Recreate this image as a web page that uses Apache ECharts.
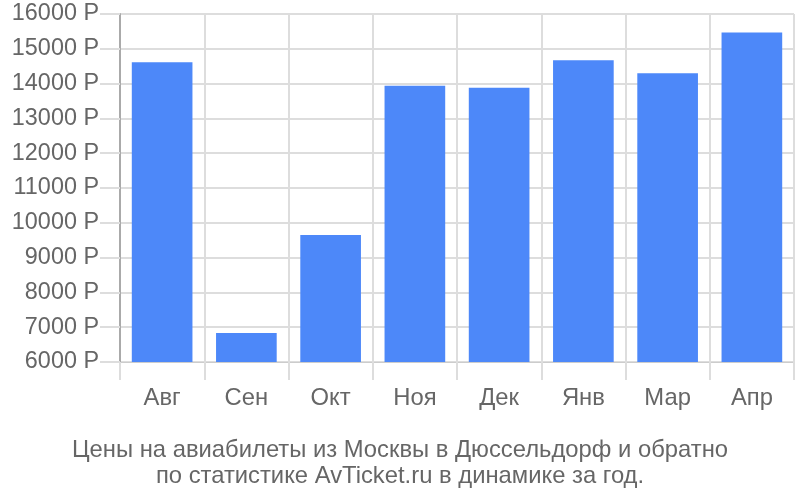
<!DOCTYPE html>
<html><head><meta charset="utf-8">
<script src="https://cdn.jsdelivr.net/npm/echarts@6/dist/echarts.min.js"></script>
<style>html,body{margin:0;padding:0;background:#fff}#c{width:800px;height:500px}</style>
</head><body><div id="c"></div>
<script>
const categories = ['Авг','Сен','Окт','Ноя','Дек','Янв','Мар','Апр'];
const prices = [14610, 6830, 9650, 13940, 13880, 14670, 14300, 15470];
const titleLines = ['Цены на авиабилеты из Москвы в Дюссельдорф и обратно','по статистике AvTicket.ru в динамике за год.'];

const chart = echarts.init(document.getElementById('c'));
const font = '"Liberation Sans", Arial, sans-serif';
chart.setOption({
  animation: false,
  title: {
    text: titleLines.join('\n'),
    left: 'center', top: 432,
    textStyle: {fontFamily: font, fontSize: 23.8, fontWeight: 'normal', color: '#666', lineHeight: 26}
  },
  grid: {left: 120, right: 6, top: 14, bottom: 138, containLabel: false},
  xAxis: {
    type: 'category', data: categories,
    axisLine: {show: true, lineStyle: {color: '#ccc', width: 1}},
    axisTick: {show: true, length: 18, lineStyle: {color: '#ddd', width: 2}},
    splitLine: {show: true, lineStyle: {color: '#ddd', width: 2}},
    axisLabel: {fontFamily: font, fontSize: 23.8, color: '#666', margin: 24}
  },
  yAxis: {
    type: 'value', min: 6000, max: 16000, interval: 1000,
    axisLine: {show: true, lineStyle: {color: '#aaa', width: 2}},
    axisTick: {show: true, length: 20, lineStyle: {color: '#ddd', width: 2}},
    splitLine: {show: true, lineStyle: {color: '#ddd', width: 2}},
    axisLabel: {fontFamily: font, fontSize: 23.4, color: '#666', margin: 21, padding: [4, 0, 0, 0], formatter: v => v + ' Р'}
  },
  series: [{
    type: 'bar', data: prices, barCategoryGap: '28%',
    itemStyle: {color: '#4d88f9'}
  }]
});
</script></body></html>
